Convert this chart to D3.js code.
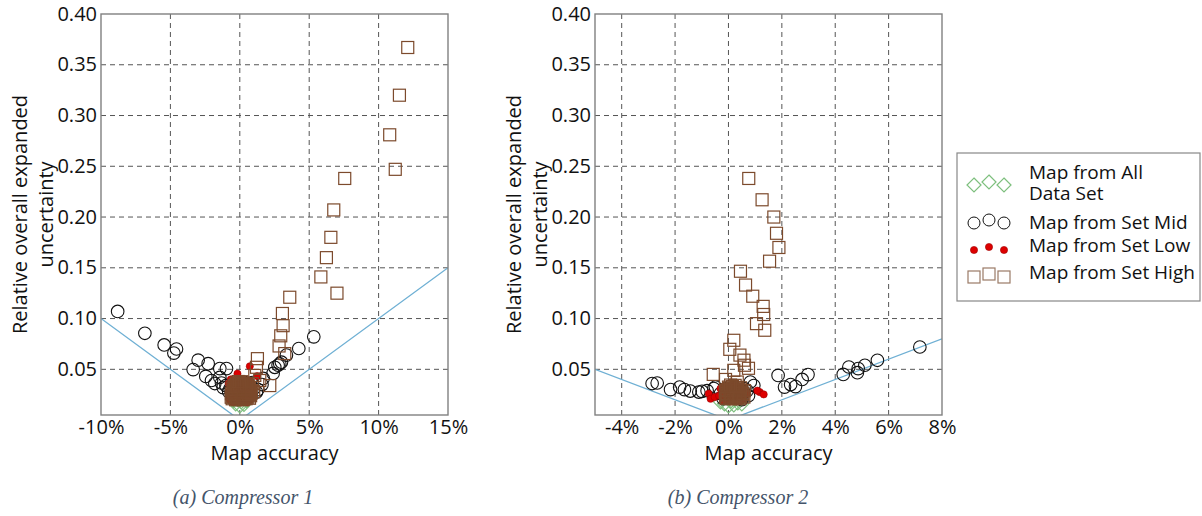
<!DOCTYPE html>
<html>
<head>
<meta charset="utf-8">
<script src="https://cdn.jsdelivr.net/npm/d3@7"></script>
<style>
  html, body { margin: 0; padding: 0; background: #fff; }
  svg { display: block; }
</style>
</head>
<body>
<svg id="chart" width="1202" height="516"></svg>
<script>
// ---- data: map accuracy (%) vs relative overall expanded uncertainty ----
const seriesNames = ["Map from All|Data Set", "Map from Set Mid", "Map from Set Low", "Map from Set High"];
const yTicks = [0.05, 0.10, 0.15, 0.20, 0.25, 0.30, 0.35, 0.40];
const c1XTicks = [-10, -5, 0, 5, 10, 15];
const c2XTicks = [-4, -2, 0, 2, 4, 6, 8];
const c1XDomain = [-10, 15];
const c2XDomain = [-5, 8];
const yDomain = [0.005, 0.40];

// boundary |accuracy| = uncertainty
const c1Bound = [[-10, 0.10], [0, 0], [15, 0.15]];
const c2Bound = [[-5, 0.05], [0, 0], [8, 0.08]];

// Compressor 1
const c1All = [[0.0, 0.014], [-0.3, 0.016], [0.3, 0.0155], [0.1, 0.018], [-0.15, 0.020], [0.2, 0.021], [-0.45, 0.019], [0.5, 0.019]];
const c1Mid = [
  [-8.8, 0.107], [-6.84, 0.0855], [-5.45, 0.074], [-4.56, 0.070], [-4.75, 0.066], [-3.0, 0.059],
  [-2.28, 0.0556], [-3.36, 0.0497], [-1.44, 0.0507], [-0.96, 0.0507], [-2.45, 0.043], [-2.04, 0.039],
  [-1.8, 0.036], [-1.44, 0.042], [-1.32, 0.0365], [3.0, 0.057], [2.76, 0.054], [2.52, 0.052],
  [2.4, 0.046], [3.36, 0.064], [4.25, 0.0705], [5.33, 0.082], [1.68, 0.041], [1.2, 0.0276],
  [2.88, 0.0555], [-1.0, 0.034], [-0.8, 0.028], [-0.5, 0.022], [0.3, 0.021], [0.8, 0.025],
  [1.0, 0.031], [-0.2, 0.030], [0.5, 0.033], [1.6, 0.035], [1.3, 0.030], [-1.2, 0.032], [0.9, 0.037],
  [-0.6, 0.026], [-0.2, 0.024], [0.2, 0.027], [0.6, 0.023], [0.0, 0.032], [-0.4, 0.035],
  [0.4, 0.037], [0.7, 0.030], [-0.7, 0.031]
];
const c1Low = [
  [-0.65, 0.040], [-0.17, 0.0457], [0.72, 0.053], [1.25, 0.0434],
  [-0.8, 0.036], [-0.5, 0.030], [-0.2, 0.033], [0.3, 0.031], [0.6, 0.036], [0.9, 0.032],
  [-0.6, 0.024], [0.1, 0.025], [0.5, 0.026], [-0.3, 0.038], [0.2, 0.039], [0.85, 0.022],
  [-0.7, 0.020], [-0.35, 0.019], [0.0, 0.0185], [0.35, 0.019], [0.7, 0.020],
  [-0.75, 0.028], [-0.4, 0.0245], [-0.05, 0.0235], [0.3, 0.0245], [0.65, 0.029],
  [-0.25, 0.028], [0.1, 0.0285], [0.45, 0.0315], [-0.55, 0.033], [-0.1, 0.036],
  [0.35, 0.036], [0.75, 0.0385], [-0.15, 0.0205], [0.55, 0.0175], [-0.45, 0.0175]
];
const c1High = [
  [12.1, 0.367], [11.5, 0.320], [10.8, 0.281], [11.2, 0.247], [7.56, 0.238], [6.77, 0.207],
  [6.56, 0.180], [6.24, 0.160], [5.84, 0.141], [7.0, 0.125], [3.6, 0.121], [3.07, 0.105],
  [3.12, 0.093], [2.95, 0.083], [2.83, 0.073], [3.24, 0.0655], [1.27, 0.0605], [1.2, 0.052],
  [1.08, 0.044], [1.44, 0.039], [2.16, 0.034],
  [-0.55, 0.021], [-0.3, 0.020], [-0.05, 0.0205], [0.2, 0.020], [0.45, 0.021], [0.7, 0.0215],
  [-0.5, 0.0235], [-0.25, 0.024], [0.0, 0.0232], [0.25, 0.0238], [0.5, 0.0235], [0.78, 0.024],
  [-0.6, 0.026], [-0.35, 0.0265], [-0.1, 0.026], [0.15, 0.0268], [0.4, 0.026], [0.65, 0.0262],
  [-0.45, 0.029], [-0.2, 0.0285], [0.05, 0.029], [0.3, 0.0292], [0.55, 0.0288], [0.8, 0.029],
  [-0.55, 0.0315], [-0.3, 0.031], [-0.05, 0.0318], [0.2, 0.0312], [0.45, 0.0315], [0.7, 0.032],
  [-0.4, 0.034], [-0.15, 0.0345], [0.1, 0.034], [0.35, 0.0348], [0.6, 0.034],
  [-0.25, 0.0365], [0.0, 0.037], [0.25, 0.0362], [0.9, 0.036], [1.0, 0.028],
  [-0.42, 0.0223], [-0.17, 0.0218], [0.08, 0.022], [0.33, 0.0215], [0.58, 0.0225],
  [-0.37, 0.0250], [-0.12, 0.0252], [0.13, 0.0248], [0.38, 0.0250], [0.63, 0.0252],
  [-0.47, 0.0278], [-0.22, 0.0275], [0.03, 0.0278], [0.28, 0.0280], [0.53, 0.0275], [0.72, 0.0272],
  [-0.32, 0.0302], [-0.07, 0.0300], [0.18, 0.0305], [0.43, 0.0300], [0.68, 0.0305],
  [-0.42, 0.0330], [-0.17, 0.0328], [0.08, 0.0330], [0.33, 0.0332], [0.58, 0.0328],
  [-0.27, 0.0355], [-0.02, 0.0355], [0.23, 0.0352], [0.48, 0.0355],
  [-0.12, 0.0380], [0.13, 0.0378], [-0.62, 0.0225], [0.82, 0.0265]
];

// Compressor 2
const c2All = [[0.0, 0.014], [0.2, 0.015], [-0.15, 0.016], [0.35, 0.017], [0.1, 0.019], [0.25, 0.0205], [0.5, 0.016], [-0.3, 0.018]];
const c2Mid = [
  [-2.86, 0.036], [-2.67, 0.0365], [-2.17, 0.030], [-1.83, 0.0325], [-1.65, 0.030], [-1.43, 0.0286],
  [-1.11, 0.0276], [-0.99, 0.0283], [-0.55, 0.031], [-0.49, 0.0326], [0.82, 0.0375], [0.95, 0.034],
  [0.7, 0.029], [1.86, 0.044], [2.1, 0.0325], [2.33, 0.035], [2.51, 0.033], [2.76, 0.040],
  [2.98, 0.0448], [4.3, 0.045], [4.51, 0.0523], [4.83, 0.0467], [4.86, 0.0507], [5.11, 0.054],
  [5.58, 0.0589], [7.17, 0.072], [-0.3, 0.026], [0.6, 0.031], [0.75, 0.024], [-0.2, 0.021],
  [0.5, 0.020], [0.1, 0.034], [-0.8, 0.029],
  [0.0, 0.026], [0.3, 0.022], [0.45, 0.029], [0.15, 0.029], [-0.1, 0.031]
];
const c2Low = [
  [-0.74, 0.026], [-0.67, 0.021], [-0.52, 0.0227], [1.17, 0.0276], [1.32, 0.0253], [1.08, 0.029],
  [-0.35, 0.024], [-0.2, 0.028], [0.0, 0.021], [0.3, 0.020], [0.55, 0.022], [0.7, 0.026],
  [0.2, 0.030], [-0.3, 0.031],
  [-0.2, 0.019], [0.05, 0.0185], [0.3, 0.0185], [0.5, 0.0195], [-0.15, 0.024], [0.1, 0.0235],
  [0.35, 0.024], [0.55, 0.027], [-0.05, 0.0285], [0.2, 0.0275], [0.45, 0.0305], [0.05, 0.032],
  [0.3, 0.033], [-0.2, 0.0325]
];
const c2High = [
  [0.76, 0.238], [1.26, 0.217], [1.7, 0.200], [1.8, 0.184], [1.89, 0.170], [1.54, 0.1565],
  [0.45, 0.1466], [0.64, 0.133], [0.91, 0.122], [1.3, 0.112], [1.32, 0.104], [1.05, 0.095],
  [1.36, 0.0885], [0.2, 0.0786], [0.05, 0.0697], [0.43, 0.064], [0.58, 0.059], [0.6, 0.054],
  [0.75, 0.051], [-0.57, 0.045], [0.2, 0.049], [-0.11, 0.040], [0.33, 0.0375], [0.58, 0.0227],
  [-0.1, 0.0225], [0.05, 0.022], [0.2, 0.0228], [0.35, 0.022], [0.45, 0.0232],
  [-0.05, 0.025], [0.1, 0.0255], [0.25, 0.0248], [0.4, 0.0252],
  [-0.12, 0.0275], [0.02, 0.028], [0.18, 0.0272], [0.32, 0.0278], [0.46, 0.027],
  [-0.05, 0.030], [0.1, 0.0305], [0.25, 0.0298], [0.4, 0.030],
  [0.0, 0.0325], [0.15, 0.033], [0.3, 0.0322], [0.55, 0.025], [0.6, 0.029],
  [-0.03, 0.0238], [0.12, 0.0235], [0.27, 0.024], [0.42, 0.0238],
  [-0.08, 0.0262], [0.07, 0.0265], [0.22, 0.026], [0.37, 0.0265], [0.52, 0.0262],
  [-0.1, 0.029], [0.05, 0.0292], [0.2, 0.0288], [0.35, 0.029], [0.5, 0.0288],
  [0.02, 0.0315], [0.17, 0.0312], [0.32, 0.0315], [0.45, 0.0318],
  [-0.08, 0.0212], [0.1, 0.021], [0.28, 0.0212], [0.42, 0.021], [0.08, 0.0345], [0.25, 0.0342]
];

const captions = ["(a) Compressor 1", "(b) Compressor 2"];

// ---- styling ----
const FONT = "'Open Sans', sans-serif";
const FS = 20;
const COL = {
  all: "#7dbf7d",
  mid: "#111111",
  low: "#dd0000",
  lowEdge: "#a00000",
  high: "#7c4a2c",
  bound: "#6fb0d4",
  grid: "#555555",
  frame: "#808080"
};

const svg = d3.select("#chart");

const diamondPath = "M0,-7L7,0L0,7L-7,0Z";

function drawMarkers(g, x, y, all, mid, low, high) {
  g.append("g").selectAll("path").data(all).join("path")
    .attr("d", diamondPath)
    .attr("transform", d => `translate(${x(d[0])},${y(d[1])})`)
    .attr("fill", "none").attr("stroke", COL.all).attr("stroke-width", 1.2);

  g.append("g").selectAll("circle").data(mid).join("circle")
    .attr("cx", d => x(d[0])).attr("cy", d => y(d[1])).attr("r", 6.3)
    .attr("fill", "none").attr("stroke", COL.mid).attr("stroke-width", 1.1);

  g.append("g").selectAll("circle").data(low).join("circle")
    .attr("cx", d => x(d[0])).attr("cy", d => y(d[1])).attr("r", 3.6)
    .attr("fill", COL.low).attr("stroke", COL.lowEdge).attr("stroke-width", 0.6);

  g.append("g").selectAll("rect").data(high).join("rect")
    .attr("x", d => x(d[0]) - 6).attr("y", d => y(d[1]) - 6)
    .attr("width", 12).attr("height", 12)
    .attr("fill", "none").attr("stroke", COL.high).attr("stroke-width", 1.2);
}

function drawPanel(opt) {
  const { left, right, top, bottom, xDomain, xTicks, bound, all, mid, low, high, caption, id } = opt;
  const x = d3.scaleLinear().domain(xDomain).range([left, right]);
  const y = d3.scaleLinear().domain(yDomain).range([bottom, top]);
  const g = svg.append("g");

  const clipId = "clip-" + id;
  svg.append("clipPath").attr("id", clipId)
    .append("rect").attr("x", left).attr("y", top)
    .attr("width", right - left).attr("height", bottom - top);

  // dashed grid
  const grid = g.append("g").attr("stroke", COL.grid).attr("stroke-width", 1)
    .attr("stroke-dasharray", "5,4");
  grid.selectAll("line.v").data(xTicks.filter(t => t > xDomain[0] && t < xDomain[1])).join("line")
    .attr("x1", d => x(d)).attr("x2", d => x(d)).attr("y1", top).attr("y2", bottom);
  grid.selectAll("line.h").data(yTicks.filter(t => t < yDomain[1])).join("line")
    .attr("y1", d => y(d)).attr("y2", d => y(d)).attr("x1", left).attr("x2", right);

  // boundary lines
  const plot = g.append("g").attr("clip-path", `url(#${clipId})`);
  plot.append("path").datum(bound)
    .attr("d", d3.line().x(d => x(d[0])).y(d => y(d[1])))
    .attr("fill", "none").attr("stroke", COL.bound).attr("stroke-width", 1.3);

  drawMarkers(plot, x, y, all, mid, low, high);

  // frame
  g.append("rect").attr("x", left).attr("y", top)
    .attr("width", right - left).attr("height", bottom - top)
    .attr("fill", "none").attr("stroke", COL.frame).attr("stroke-width", 1.4);

  // axes (labels only)
  const xAxis = g.append("g").attr("transform", `translate(0,${bottom})`)
    .call(d3.axisBottom(x).tickValues(xTicks).tickFormat(d => d + "%").tickSize(0).tickPadding(5));
  const yAxis = g.append("g").attr("transform", `translate(${left},0)`)
    .call(d3.axisLeft(y).tickValues(yTicks).tickFormat(d3.format(".2f")).tickSize(0).tickPadding(4));
  [xAxis, yAxis].forEach(a => {
    a.select(".domain").remove();
    a.selectAll("text").attr("font-family", FONT).attr("font-size", FS).attr("fill", "#111");
  });
  yAxis.selectAll("text").attr("dy", "0.3em");

  // axis titles
  g.append("text").attr("x", (left + right) / 2).attr("y", 460)
    .attr("text-anchor", "middle").attr("font-family", FONT).attr("font-size", FS).attr("fill", "#111")
    .text("Map accuracy");
  const cy = (top + bottom) / 2;
  [["Relative overall expanded", left - 74], ["uncertainty", left - 48]].forEach(([t, xx]) => {
    g.append("text").attr("transform", `translate(${xx},${cy}) rotate(-90)`)
      .attr("text-anchor", "middle").attr("font-family", FONT).attr("font-size", FS).attr("fill", "#111")
      .text(t);
  });

  // caption
  g.append("text").attr("x", opt.capX).attr("y", 504)
    .attr("text-anchor", "middle").attr("font-family", "'Liberation Serif', serif")
    .attr("font-style", "italic").attr("font-size", 20).attr("fill", "#44546a")
    .text(caption);
}

drawPanel({ id: "c1", left: 101, right: 448, top: 14, bottom: 415, xDomain: c1XDomain, xTicks: c1XTicks,
  bound: c1Bound, all: c1All, mid: c1Mid, low: c1Low, high: c1High, caption: captions[0], capX: 243 });
drawPanel({ id: "c2", left: 595, right: 942, top: 14, bottom: 415, xDomain: c2XDomain, xTicks: c2XTicks,
  bound: c2Bound, all: c2All, mid: c2Mid, low: c2Low, high: c2High, caption: captions[1], capX: 738 });

// ---- legend ----
const lg = svg.append("g");
lg.append("rect").attr("x", 957).attr("y", 153).attr("width", 243).attr("height", 148)
  .attr("fill", "#fff").attr("stroke", "#888").attr("stroke-width", 1.2);

const sampleX = [974, 989, 1004];
const sampleDy = [1, -2, 1];
const rows = [
  { y: 184, kind: "all" }, { y: 222, kind: "mid" }, { y: 249, kind: "low" }, { y: 276, kind: "high" }
];
rows.forEach(r => {
  sampleX.forEach((sx, i) => {
    const sy = r.y + sampleDy[i];
    if (r.kind === "all") {
      lg.append("path").attr("d", diamondPath).attr("transform", `translate(${sx},${sy})`)
        .attr("fill", "none").attr("stroke", COL.all).attr("stroke-width", 1.2);
    } else if (r.kind === "mid") {
      lg.append("circle").attr("cx", sx).attr("cy", sy).attr("r", 6).attr("fill", "none")
        .attr("stroke", COL.mid).attr("stroke-width", 1);
    } else if (r.kind === "low") {
      lg.append("circle").attr("cx", sx).attr("cy", sy).attr("r", 3.6).attr("fill", COL.low)
        .attr("stroke", COL.lowEdge).attr("stroke-width", 0.6);
    } else {
      lg.append("rect").attr("x", sx - 6).attr("y", sy - 6).attr("width", 12).attr("height", 12)
        .attr("fill", "none").attr("stroke", "#9a7a66").attr("stroke-width", 1.2);
    }
  });
});
const labelLines = [
  [seriesNames[0].split("|")[0], 179], [seriesNames[0].split("|")[1], 200],
  [seriesNames[1], 229], [seriesNames[2], 252], [seriesNames[3], 279]
];
labelLines.forEach(([t, yy]) => {
  lg.append("text").attr("x", 1029).attr("y", yy).attr("font-family", FONT).attr("font-size", 19)
    .attr("fill", "#111").text(t);
});
</script>
</body>
</html>
